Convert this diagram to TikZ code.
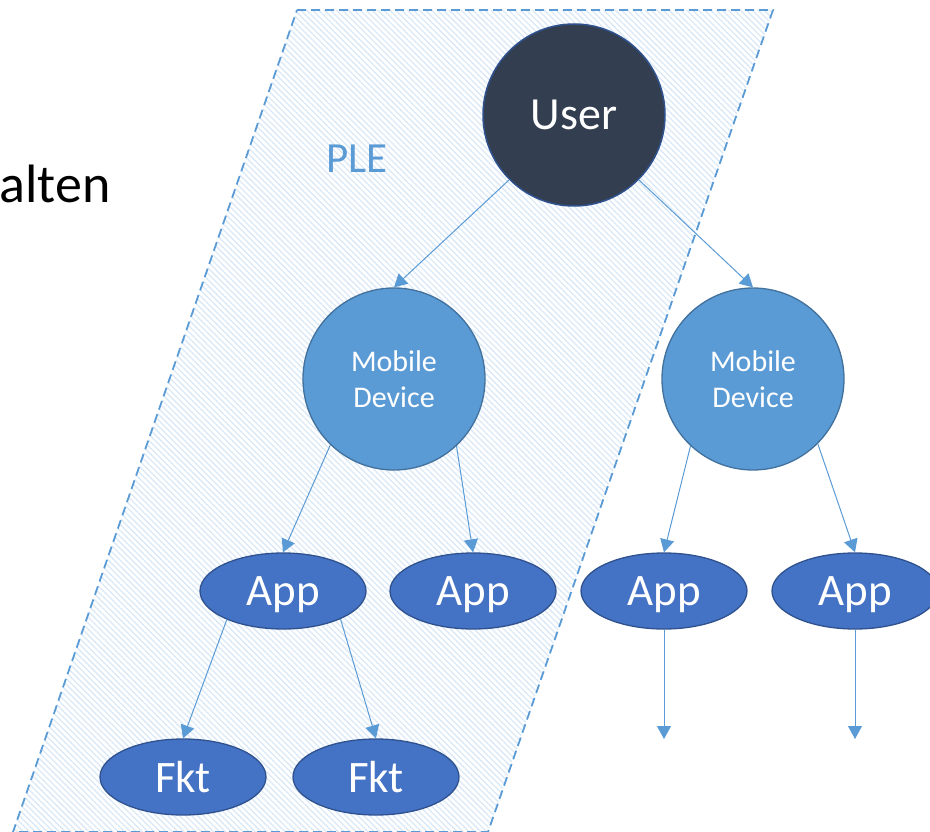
\documentclass[tikz,border=0pt]{standalone}
\usepackage{fontspec}
\setmainfont{Carlito}
\usetikzlibrary{shapes.geometric, arrows.meta, patterns.meta}

\definecolor{userfill}{HTML}{333F50}
\definecolor{userline}{HTML}{2F528F}
\definecolor{mdfill}{HTML}{5B9BD5}
\definecolor{mdline}{HTML}{41719C}
\definecolor{appfill}{HTML}{4472C4}
\definecolor{appline}{HTML}{2F528F}
\definecolor{conncolor}{HTML}{5B9BD5}
\definecolor{hatchcolor}{HTML}{DAE8F7}

\begin{document}
\begin{tikzpicture}[x=1pt, y=-1pt,
        usernode/.style={circle, draw=userline, line width=1.5pt, fill=userfill,
            minimum size=182pt, inner sep=0pt, text=white,
            font=\fontsize{46}{54}\selectfont},
        mdnode/.style={circle, draw=mdline, line width=1.3pt, fill=mdfill,
            minimum size=182pt, inner sep=0pt, text=white, align=center,
            font=\fontsize{30}{36}\selectfont},
        appnode/.style={ellipse, draw=appline, line width=1.3pt, fill=appfill,
            minimum width=166pt, minimum height=76pt, inner sep=0pt, text=white,
            text depth=0pt, font=\fontsize{45}{52}\selectfont},
        conn/.style={conncolor, line width=1pt,
            -{Triangle[length=13pt, width=14pt]}}
    ]
    % --- Rahmen ---
    \useasboundingbox (0,0) rectangle (930,832);
    \clip (0,0) rectangle (930,832);

    % --- PLE-Bereich (schraffiert, gestrichelt) ---
    \path[pattern={Lines[angle=-45, distance=4.2pt, line width=1.3pt]},
          pattern color=hatchcolor]
        (297,10) -- (773,10) -- (488,832) -- (13,832) -- cycle;
    \draw[conncolor, line width=1.8pt, dash pattern=on 9pt off 5pt]
        (297,10) -- (773,10) -- (488,832) -- (13,832) -- cycle;

    % --- Texte ---
    \node[anchor=base east, font=\fontsize{54}{64}\selectfont] (alten) at (114,203) {alten};
    \node[text=conncolor, font=\fontsize{43}{50}\selectfont] (ple) at (357,159) {PLE};

    % --- Knoten ---
    \node[usernode] (user) at (574,115) {User};
    \node[mdnode] (mdl) at (394,379) {Mobile\\Device};
    \node[mdnode] (mdr) at (753,379) {Mobile\\Device};

    \node[appnode] (appa) at (283,591) {App};
    \node[appnode] (appb) at (473,591) {App};
    \node[appnode] (appc) at (664,591) {App};
    \node[appnode] (appd) at (855,591) {App};

    \node[appnode] (fkta) at (183,777) {Fkt};
    \node[appnode] (fktb) at (376,777) {Fkt};

    % offene Enden
    \coordinate (endc) at (664,739);
    \coordinate (endd) at (855,739);

    % --- Pfeile ---
    \draw[conn] (user.-135) -- (mdl.north);
    \draw[conn] (user.-45) -- (mdr.north);

    \draw[conn] (mdl.-134) -- (appa.north);
    \draw[conn] (mdl.-47) -- (appb.north);
    \draw[conn] (mdr.-133) -- (appc.north);
    \draw[conn] (mdr.-45) -- (appd.north);

    \draw[conn] (appa.-153) -- (fkta.north);
    \draw[conn] (appa.-26) -- (fktb.north);

    \draw[conn] (appc.south) -- (endc);
    \draw[conn] (appd.south) -- (endd);

\end{tikzpicture}
\end{document}
